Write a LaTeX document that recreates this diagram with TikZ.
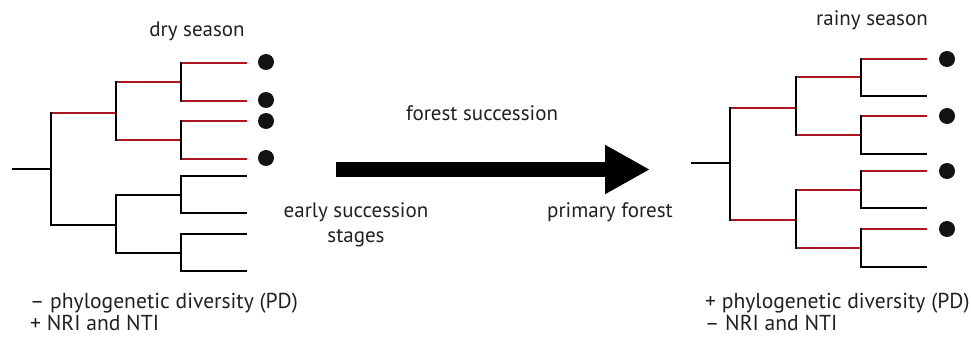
\documentclass[tikz,border=0pt]{standalone}
\usepackage{fontspec}
\setmainfont{PT Sans}
\usetikzlibrary{arrows.meta}

\definecolor{cladered}{RGB}{172,22,34}
\definecolor{labelgray}{RGB}{35,31,32}

\tikzset{
  branch/.style={line width=2.2pt,draw=black},
  redbranch/.style={line width=2.2pt,draw=cladered},
  taxon/.style={circle,fill=black!93,inner sep=0pt,minimum size=16pt},
  caption/.style={font=\fontsize{21}{25}\selectfont,text=labelgray,inner sep=0pt,anchor=base},
  metric/.style={caption,anchor=base west,align=left,font=\fontsize{21.6}{22}\selectfont},
}

\begin{document}
\begin{tikzpicture}[x=1pt,y=-1pt]
  \useasboundingbox (0,0) rectangle (971,342);

  % dry season tree: clustered clade marked red
  \begin{scope}
    \coordinate (L0) at (12,169);
    \coordinate (La) at (51,169);
    \coordinate (Lb) at (116,113);
    \coordinate (Lc) at (116,225);
    \coordinate (Ld) at (181,82);
    \coordinate (Le) at (181,140);
    \coordinate (Lf) at (181,195);
    \coordinate (Lg) at (181,253);
    \foreach \i/\y in {1/63,2/101,3/121,4/159,5/176,6/213,7/234,8/271}
      \coordinate (Lt\i) at (247,\y);
    % horizontal branches
    \foreach \p/\c in {Lb/Ld,Lb/Le,Ld/Lt1,Ld/Lt2,Le/Lt3,Le/Lt4}
      \draw[redbranch] (\p |- \c) -- (\c);
    \draw[redbranch] (La |- Lb) -- (Lb);
    \foreach \p/\c in {La/Lc,Lc/Lf,Lc/Lg,Lf/Lt5,Lf/Lt6,Lg/Lt7,Lg/Lt8}
      \draw[branch] (\p |- \c) -- (\c);
    \draw[branch] (L0) -- (La);
    % vertical branches
    \foreach \p/\u/\d in {La/Lb/Lc,Lb/Ld/Le,Lc/Lf/Lg,Ld/Lt1/Lt2,Le/Lt3/Lt4,Lf/Lt5/Lt6,Lg/Lt7/Lt8}
      \draw[branch,line cap=rect] (\p |- \u) -- (\p |- \d);
    % occurrences
    \foreach \i/\y in {1/62,2/100,3/121,4/158}
      \node[taxon] (Ldot\i) at (266,\y) {};
    \node[caption] (dry) at (197,37) {dry season};
  \end{scope}

  % succession arrow
  \coordinate (early) at (336,169.5);
  \coordinate (late) at (650,169.5);
  \draw[line width=15pt,-{Triangle[length=45pt,width=46pt]}] (early) -- (late);
  \node[caption] (succ) at (482,121) {forest succession};
  \node[caption,align=center,font=\fontsize{21}{25}\selectfont] (stage) at (356,242) {early succession\\stages};
  \node[caption] (primary) at (610,217) {primary forest};

  % rainy season tree: overdispersed, one red tip per pair
  \begin{scope}
    \coordinate (R0) at (691,163);
    \coordinate (Ra) at (730,163);
    \coordinate (Rb) at (796,108);
    \coordinate (Rc) at (796,220);
    \coordinate (Rd) at (861,77);
    \coordinate (Re) at (861,135);
    \coordinate (Rf) at (861,190);
    \coordinate (Rg) at (861,248);
    \foreach \i/\y in {1/59,2/96,3/116,4/154,5/171,6/208,7/229,8/267}
      \coordinate (Rt\i) at (927,\y);
    % horizontal branches
    \foreach \p/\c in {Ra/Rb,Ra/Rc,Rb/Rd,Rb/Re,Rc/Rf,Rc/Rg,Rd/Rt1,Re/Rt3,Rf/Rt5,Rg/Rt7}
      \draw[redbranch] (\p |- \c) -- (\c);
    \foreach \p/\c in {Rd/Rt2,Re/Rt4,Rf/Rt6,Rg/Rt8}
      \draw[branch] (\p |- \c) -- (\c);
    \draw[branch] (R0) -- (Ra);
    % vertical branches
    \foreach \p/\u/\d in {Ra/Rb/Rc,Rb/Rd/Re,Rc/Rf/Rg,Rd/Rt1/Rt2,Re/Rt3/Rt4,Rf/Rt5/Rt6,Rg/Rt7/Rt8}
      \draw[branch,line cap=rect] (\p |- \u) -- (\p |- \d);
    % occurrences
    \foreach \i/\y in {1/59,2/116,3/171,4/229}
      \node[taxon] (Rdot\i) at (947,\y) {};
    \node[caption] (rainy) at (872,26) {rainy season};
  \end{scope}

  % community metrics
  \node[metric] (drymetric) at (30,330)
    {-- phylogenetic diversity (PD)\\+ NRI and NTI};
  \node[metric] (rainymetric) at (705,330)
    {+ phylogenetic diversity (PD)\\-- NRI and NTI};
\end{tikzpicture}
\end{document}
